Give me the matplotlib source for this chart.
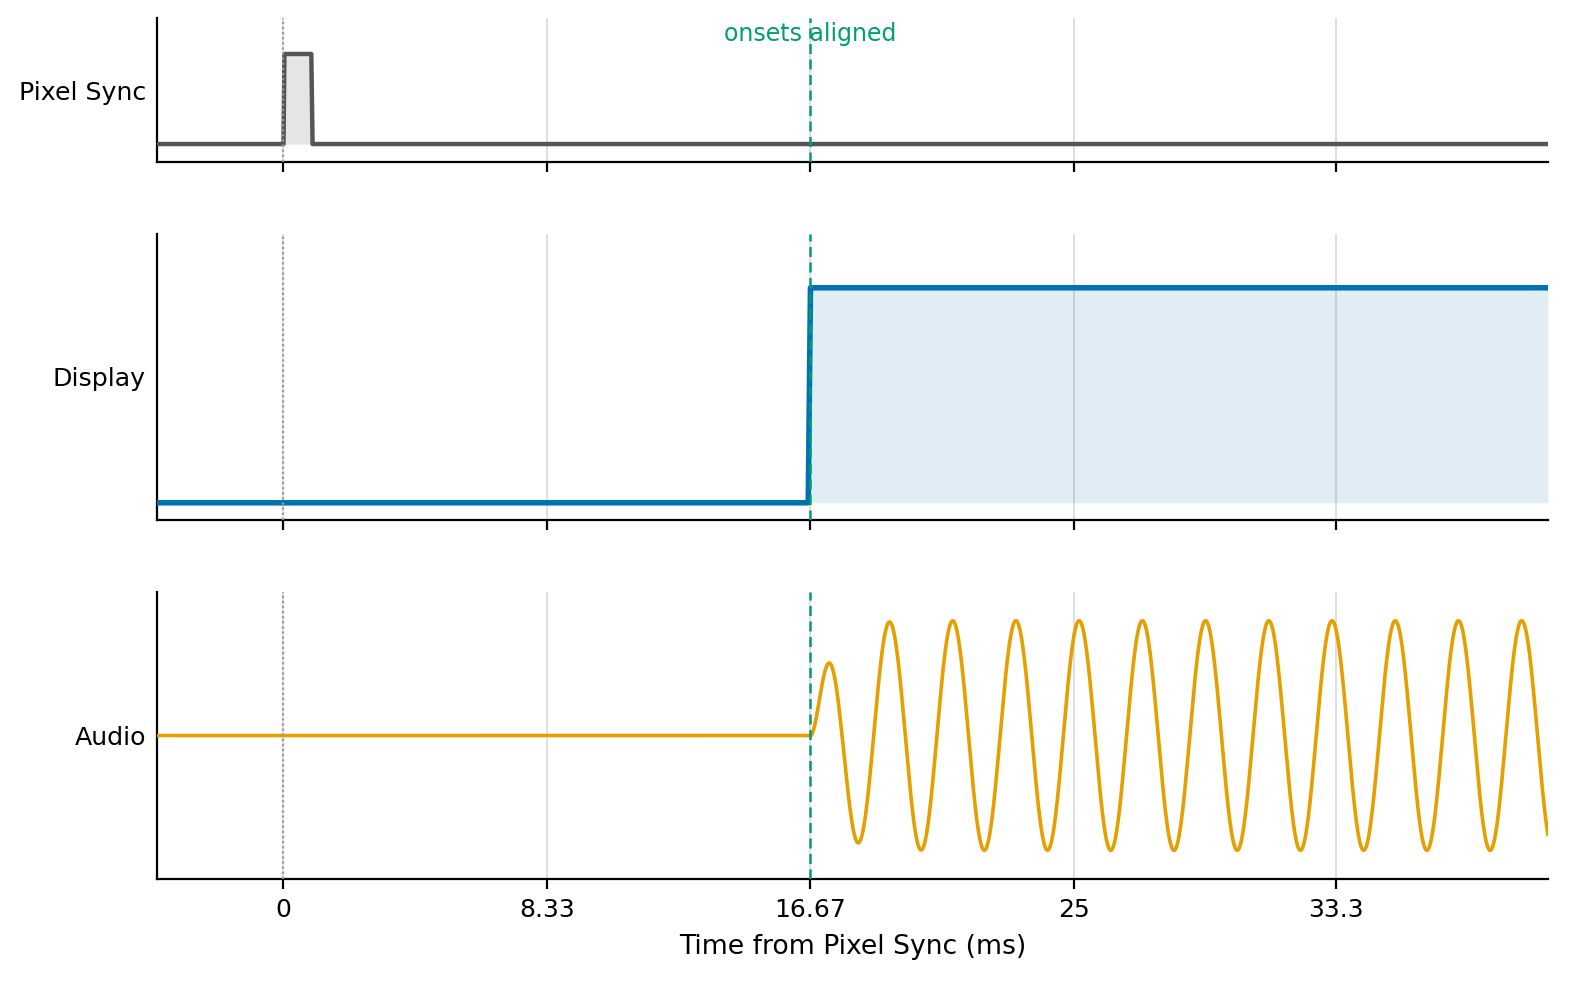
import numpy as np
import matplotlib
matplotlib.use("Agg")
import matplotlib.pyplot as plt

# ---- data ----
x_ticks = [0, 8.33, 16.67, 25, 33.3]
x_tick_labels = ["0", "8.33", "16.67", "25", "33.3"]
x_limits = (-4, 40)

sync_t = [-4, 0.0, 0.03, 0.88, 0.92, 40]
sync_v = [0, 0, 1, 1, 0, 0]

display_t = [-4, 16.6, 16.67, 40]
display_v = [0, 0, 1, 1]

onset_ms = 16.67
tone_freq_khz = 0.5      # 500 Hz tone
tone_amp = 0.8
tone_ramp_ms = 0.55      # onset envelope time constant

panel_labels = ["Pixel Sync", "Display", "Audio"]

# ---- colours ----
c_sync = "#555555"
c_disp = "#0072B2"
c_audio = "#E69F00"
c_green = "#009E73"

fig = plt.figure(figsize=(7.86, 4.91), dpi=200)
ax1 = fig.add_axes([0.0999, 0.835, 0.8848, 0.1467])
ax2 = fig.add_axes([0.0999, 0.4705, 0.8848, 0.2912])
ax3 = fig.add_axes([0.0999, 0.1049, 0.8848, 0.2922])
axes = [ax1, ax2, ax3]

# audio waveform from tone parameters
audio_t = np.linspace(x_limits[0], x_limits[1], 6000)
rel = np.clip(audio_t - onset_ms, 0, None)
env = np.where(audio_t >= onset_ms, 1 - np.exp(-rel / tone_ramp_ms), 0.0)
audio_v = tone_amp * env * np.sin(2 * np.pi * tone_freq_khz * rel)

ylims = [(-0.2, 1.4), (-0.08, 1.25), (-1.0, 1.0)]
mids = [0.6, (ylims[1][0] + ylims[1][1]) / 2, 0.0]

for ax, lab, yl, mid in zip(axes, panel_labels, ylims, mids):
    ax.set_xlim(*x_limits)
    ax.set_ylim(*yl)
    for xt in x_ticks:
        ax.axvline(xt, color="#d9d9d9", lw=0.6, zorder=0)
    ax.axvline(0, color="#999999", lw=0.8, ls=(0, (1, 1.3)), zorder=4)
    ax.axvline(onset_ms, color=c_green, lw=0.9, ls=(0, (4, 2.2)), zorder=5)
    ax.set_xticks(x_ticks)
    ax.set_yticks([mid])
    ax.set_yticklabels([lab], fontsize=9.1)
    ax.tick_params(axis="y", length=0, pad=4)
    ax.tick_params(axis="x", length=3.5, width=0.8, labelsize=9)
    for s in ["top", "right"]:
        ax.spines[s].set_visible(False)
    for s in ["left", "bottom"]:
        ax.spines[s].set_linewidth(0.8)

ax1.set_xticklabels([])
ax2.set_xticklabels([])
ax3.set_xticklabels(x_tick_labels)

ax1.fill_between(sync_t, sync_v, 0, color=c_sync, alpha=0.15, lw=0, zorder=2)
ax1.plot(sync_t, sync_v, color=c_sync, lw=1.6, zorder=3)
ax1.text(onset_ms, 1.22, "onsets aligned", color=c_green, fontsize=8.5,
         ha="center", va="center")

ax2.fill_between(display_t, display_v, 0, color=c_disp, alpha=0.12, lw=0, zorder=2)
ax2.plot(display_t, display_v, color=c_disp, lw=2.0, zorder=3)

ax3.plot(audio_t, audio_v, color=c_audio, lw=1.3, zorder=3)
ax3.set_xlabel("Time from Pixel Sync (ms)", fontsize=9.6, labelpad=4)

fig.savefig("out.png", dpi=200)
